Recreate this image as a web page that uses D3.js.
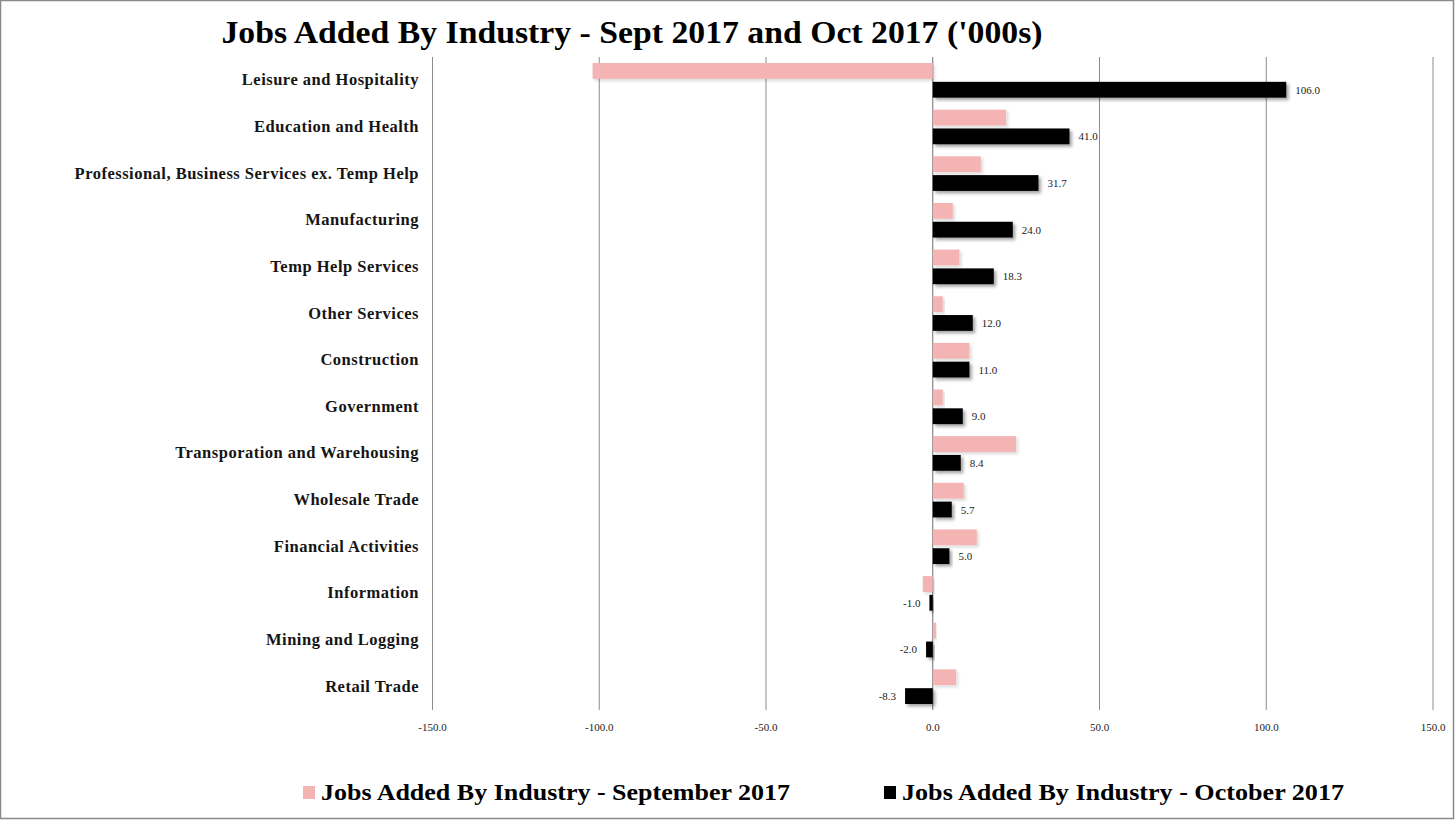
<!DOCTYPE html>
<html>
<head>
<meta charset="utf-8">
<script src="https://cdn.jsdelivr.net/npm/d3@7"></script>
<style>
  body { margin: 0; background: #fff; }
  text { font-family: "Liberation Serif", "DejaVu Serif", serif; }
</style>
</head>
<body>
<div id="chart"></div>
<script>
const width = 1455
const height = 820

const industries = [
  "Leisure and Hospitality",
  "Education and Health",
  "Professional, Business Services ex. Temp Help",
  "Manufacturing",
  "Temp Help Services",
  "Other Services",
  "Construction",
  "Government",
  "Transporation and Warehousing",
  "Wholesale Trade",
  "Financial Activities",
  "Information",
  "Mining and Logging",
  "Retail Trade"
];
const sept2017 = [-102, 22, 14.4, 6, 8, 3, 11, 3, 25, 9.3, 13.2, -3, 1, 7];
const oct2017 = [106, 41, 31.7, 24, 18.3, 12, 11, 9, 8.4, 5.7, 5, -1, -2, -8.3];
const xTicks = [-150, -100, -50, 0, 50, 100, 150];
const seriesNames = [
  "Jobs Added By Industry - September 2017",
  "Jobs Added By Industry - October 2017"
];

const pink = "#f4b4b4";
// excel style numbers, plain hyphen for minus
const fmt = v => d3.format(".1f")(v).replace("\u2212", "-");

const svg = d3.select("#chart")
  .append("svg")
  .attr("width", width)
  .attr("height", height)

const defs = svg.append("defs");
const shadow = defs.append("filter")
  .attr("id", "shadow")
  .attr("x", "-10%").attr("y", "-30%")
  .attr("width", "130%").attr("height", "180%");
shadow.append("feDropShadow")
  .attr("dx", 2.5)
  .attr("dy", 2.5)
  .attr("stdDeviation", 1.5)
  .attr("flood-color", "#000")
  .attr("flood-opacity", 0.35);

const softShadow = defs.append("filter")
  .attr("id", "soft-shadow")
  .attr("x", "-10%").attr("y", "-30%")
  .attr("width", "130%").attr("height", "180%");
softShadow.append("feDropShadow")
  .attr("dx", 2)
  .attr("dy", 2)
  .attr("stdDeviation", 1.5)
  .attr("flood-color", "#000")
  .attr("flood-opacity", 0.15);

// outer border
svg.append("rect")
  .attr("x", 0.5).attr("y", 0.5)
  .attr("width", width - 2).attr("height", height - 2)
  .attr("fill", "white")
  .attr("stroke", "#8a8a8a")
  .attr("stroke-width", 1.5);

const x = d3.scaleLinear()
  .domain([-150, 150])
  .range([432.5, 1433]);

const y = d3.scaleBand()
  .domain(industries)
  .range([57, 710]);

const sub = d3.scaleBand()
  .domain(["sep", "oct"])
  .range([0, y.bandwidth()])
  .paddingInner(0.16)
  .paddingOuter(0.32);

// title
svg.append("text")
  .attr("x", 632)
  .attr("y", 43)
  .attr("text-anchor", "middle")
  .attr("font-size", 31)
  .attr("font-weight", "bold")
  .attr("textLength", 821)
  .attr("lengthAdjust", "spacingAndGlyphs")
  .text("Jobs Added By Industry - Sept 2017 and Oct 2017 ('000s)");

// gridlines
svg.append("g")
  .selectAll("line")
  .data(xTicks)
  .join("line")
  .attr("x1", d => x(d)).attr("x2", d => x(d))
  .attr("y1", 57).attr("y2", 710)
  .attr("stroke", d => d === 0 ? "#6e6e6e" : "#8c8c8c")
  .attr("stroke-width", 1);

// tick labels
svg.append("g")
  .selectAll("text")
  .data(xTicks)
  .join("text")
  .attr("x", d => x(d))
  .attr("y", 731)
  .attr("text-anchor", "middle")
  .attr("font-size", 11)
  .attr("fill", "#222")
  .text(d => fmt(d));

// category labels
svg.append("g")
  .selectAll("text")
  .data(industries)
  .join("text")
  .attr("x", 419)
  .attr("y", d => y(d) + y.bandwidth() / 2 + 5)
  .attr("text-anchor", "end")
  .attr("font-size", 16.5)
  .attr("font-weight", "bold")
  .attr("letter-spacing", 0.5)
  .attr("fill", "#151515")
  .text(d => d);

const rows = industries.map((name, i) => ({ name, sep: sept2017[i], oct: oct2017[i] }));

// september bars
svg.append("g")
  .selectAll("rect")
  .data(rows)
  .join("rect")
  .attr("x", d => x(Math.min(0, d.sep)))
  .attr("y", d => y(d.name) + sub("sep"))
  .attr("width", d => Math.abs(x(d.sep) - x(0)))
  .attr("height", sub.bandwidth())
  .attr("fill", pink)
  .attr("filter", "url(#soft-shadow)");

// october bars
svg.append("g")
  .selectAll("rect")
  .data(rows)
  .join("rect")
  .attr("x", d => x(Math.min(0, d.oct)))
  .attr("y", d => y(d.name) + sub("oct"))
  .attr("width", d => Math.abs(x(d.oct) - x(0)))
  .attr("height", sub.bandwidth())
  .attr("fill", "black")
  .attr("filter", "url(#shadow)");

// october value labels
svg.append("g")
  .selectAll("text")
  .data(rows)
  .join("text")
  .attr("x", d => d.oct >= 0 ? x(d.oct) + 9 : x(d.oct) - 9)
  .attr("y", d => y(d.name) + sub("oct") + sub.bandwidth() / 2 + 4)
  .attr("text-anchor", d => d.oct >= 0 ? "start" : "end")
  .attr("font-size", 11)
  .attr("fill", "#222")
  .text(d => fmt(d.oct));

// legend
const legend = svg.append("g");
const legendItems = [
  { name: seriesNames[0], color: pink, sx: 303, tx: 321, len: 469 },
  { name: seriesNames[1], color: "black", sx: 884, tx: 902, len: 442 }
];
legend.selectAll("rect")
  .data(legendItems)
  .join("rect")
  .attr("x", d => d.sx)
  .attr("y", 786)
  .attr("width", 12)
  .attr("height", 13)
  .attr("fill", d => d.color);
legend.selectAll("text")
  .data(legendItems)
  .join("text")
  .attr("x", d => d.tx)
  .attr("y", 800)
  .attr("font-size", 24)
  .attr("font-weight", "bold")
  .attr("textLength", d => d.len)
  .attr("lengthAdjust", "spacingAndGlyphs")
  .text(d => d.name);
</script>
</body>
</html>
